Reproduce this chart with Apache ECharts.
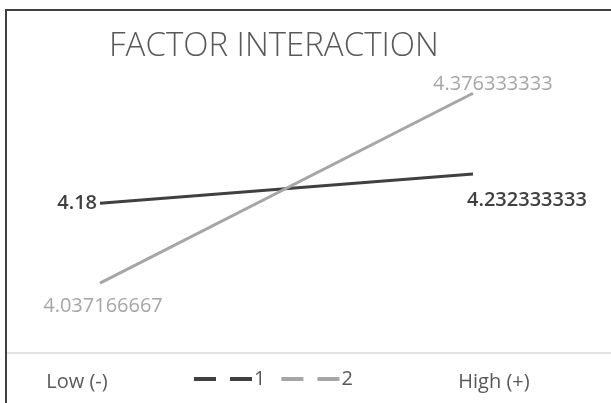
<!DOCTYPE html>
<html>
<head>
<meta charset="utf-8">
<script src="https://cdn.jsdelivr.net/npm/echarts@6/dist/echarts.min.js"></script>
<style>
  html, body { margin: 0; padding: 0; background: #fff; }
  #chart { width: 611px; height: 403px; }
</style>
</head>
<body>
<div id="chart"></div>
<script>
// 数据
var categories = ["Low (-)", "High (+)"];
var seriesNames = ["1", "2"];
var series1 = [4.18, 4.232333333];
var series2 = [4.037166667, 4.376333333];

// 颜色
var darkColor = "#404040";
var lightColor = "#a6a6a6";
var textColor = "#595959";
var font = "Open Sans";

// 每个点的标签位置
var labels1 = [
  { position: "left", distance: 3, fontWeight: 600 },
  { position: "right", distance: 0, offset: [-6, 26], fontWeight: 600 }
];
var labels2 = [
  { position: "bottom", distance: 13, offset: [3, 0] },
  { position: "right", distance: 0, offset: [-40, -9] }
];

function buildData(values, labelCfg, color) {
  return values.map(function (v, i) {
    var l = Object.assign({
      show: true,
      color: color,
      fontFamily: font,
      fontSize: 20,
      formatter: function (p) { return String(p.value); }
    }, labelCfg[i]);
    return { value: v, label: l };
  });
}

var myChart = echarts.init(document.getElementById("chart"));

var option = {
  animation: false,
  title: {
    text: "FACTOR INTERACTION",
    left: 104,
    top: 25,
    textStyle: { color: textColor, fontFamily: font, fontSize: 33, fontWeight: 300 }
  },
  legend: {
    data: [
      { name: seriesNames[0], icon: "path://M0,0h22v4h-22z M36,0h22v4h-22z" },
      { name: seriesNames[1], icon: "path://M0,0h22v4h-22z M36,0h22v4h-22z" }
    ],
    left: 189,
    top: 364,
    itemWidth: 58,
    itemHeight: 4,
    itemGap: 16,
    textStyle: { color: textColor, fontFamily: font, fontSize: 20, padding: [0, 0, 0, -3] }
  },
  grid: [
    { left: 100, right: 138, top: 80, bottom: 99 },
    { left: 77, right: 117, top: 80, bottom: 99 }
  ],
  xAxis: [
    {
      type: "category", gridIndex: 0, data: categories, boundaryGap: false,
      axisLine: { show: false }, axisTick: { show: false }, axisLabel: { show: false }
    },
    {
      type: "category", gridIndex: 1, data: categories, boundaryGap: false,
      axisLine: { show: false }, axisTick: { show: false },
      axisLabel: { color: textColor, fontFamily: font, fontSize: 20, margin: 68 }
    }
  ],
  yAxis: [
    { type: "value", gridIndex: 0, min: 4.0, max: 4.4, show: false },
    { type: "value", gridIndex: 1, min: 4.0, max: 4.4, show: false }
  ],
  graphic: [
    { // 外框
      type: "polyline",
      shape: { points: [[6, 403], [6, 10], [611, 10]] },
      style: { stroke: "#404040", lineWidth: 2, fill: null }
    },
    { // 横轴线
      type: "line",
      shape: { x1: 7, y1: 353, x2: 611, y2: 353 },
      style: { stroke: "#d9d9d9", lineWidth: 1.5 }
    }
  ],
  series: [
    {
      name: seriesNames[0], type: "line", xAxisIndex: 0, yAxisIndex: 0,
      data: buildData(series1, labels1, darkColor),
      symbol: "circle", symbolSize: 0, showSymbol: true,
      lineStyle: { color: darkColor, width: 3 },
      itemStyle: { color: darkColor }
    },
    {
      name: seriesNames[1], type: "line", xAxisIndex: 0, yAxisIndex: 0,
      data: buildData(series2, labels2, lightColor),
      symbol: "circle", symbolSize: 0, showSymbol: true,
      lineStyle: { color: lightColor, width: 3 },
      itemStyle: { color: lightColor }
    }
  ]
};
// 使用刚指定的配置项和数据显示图表。
myChart.setOption(option);
</script>
</body>
</html>
